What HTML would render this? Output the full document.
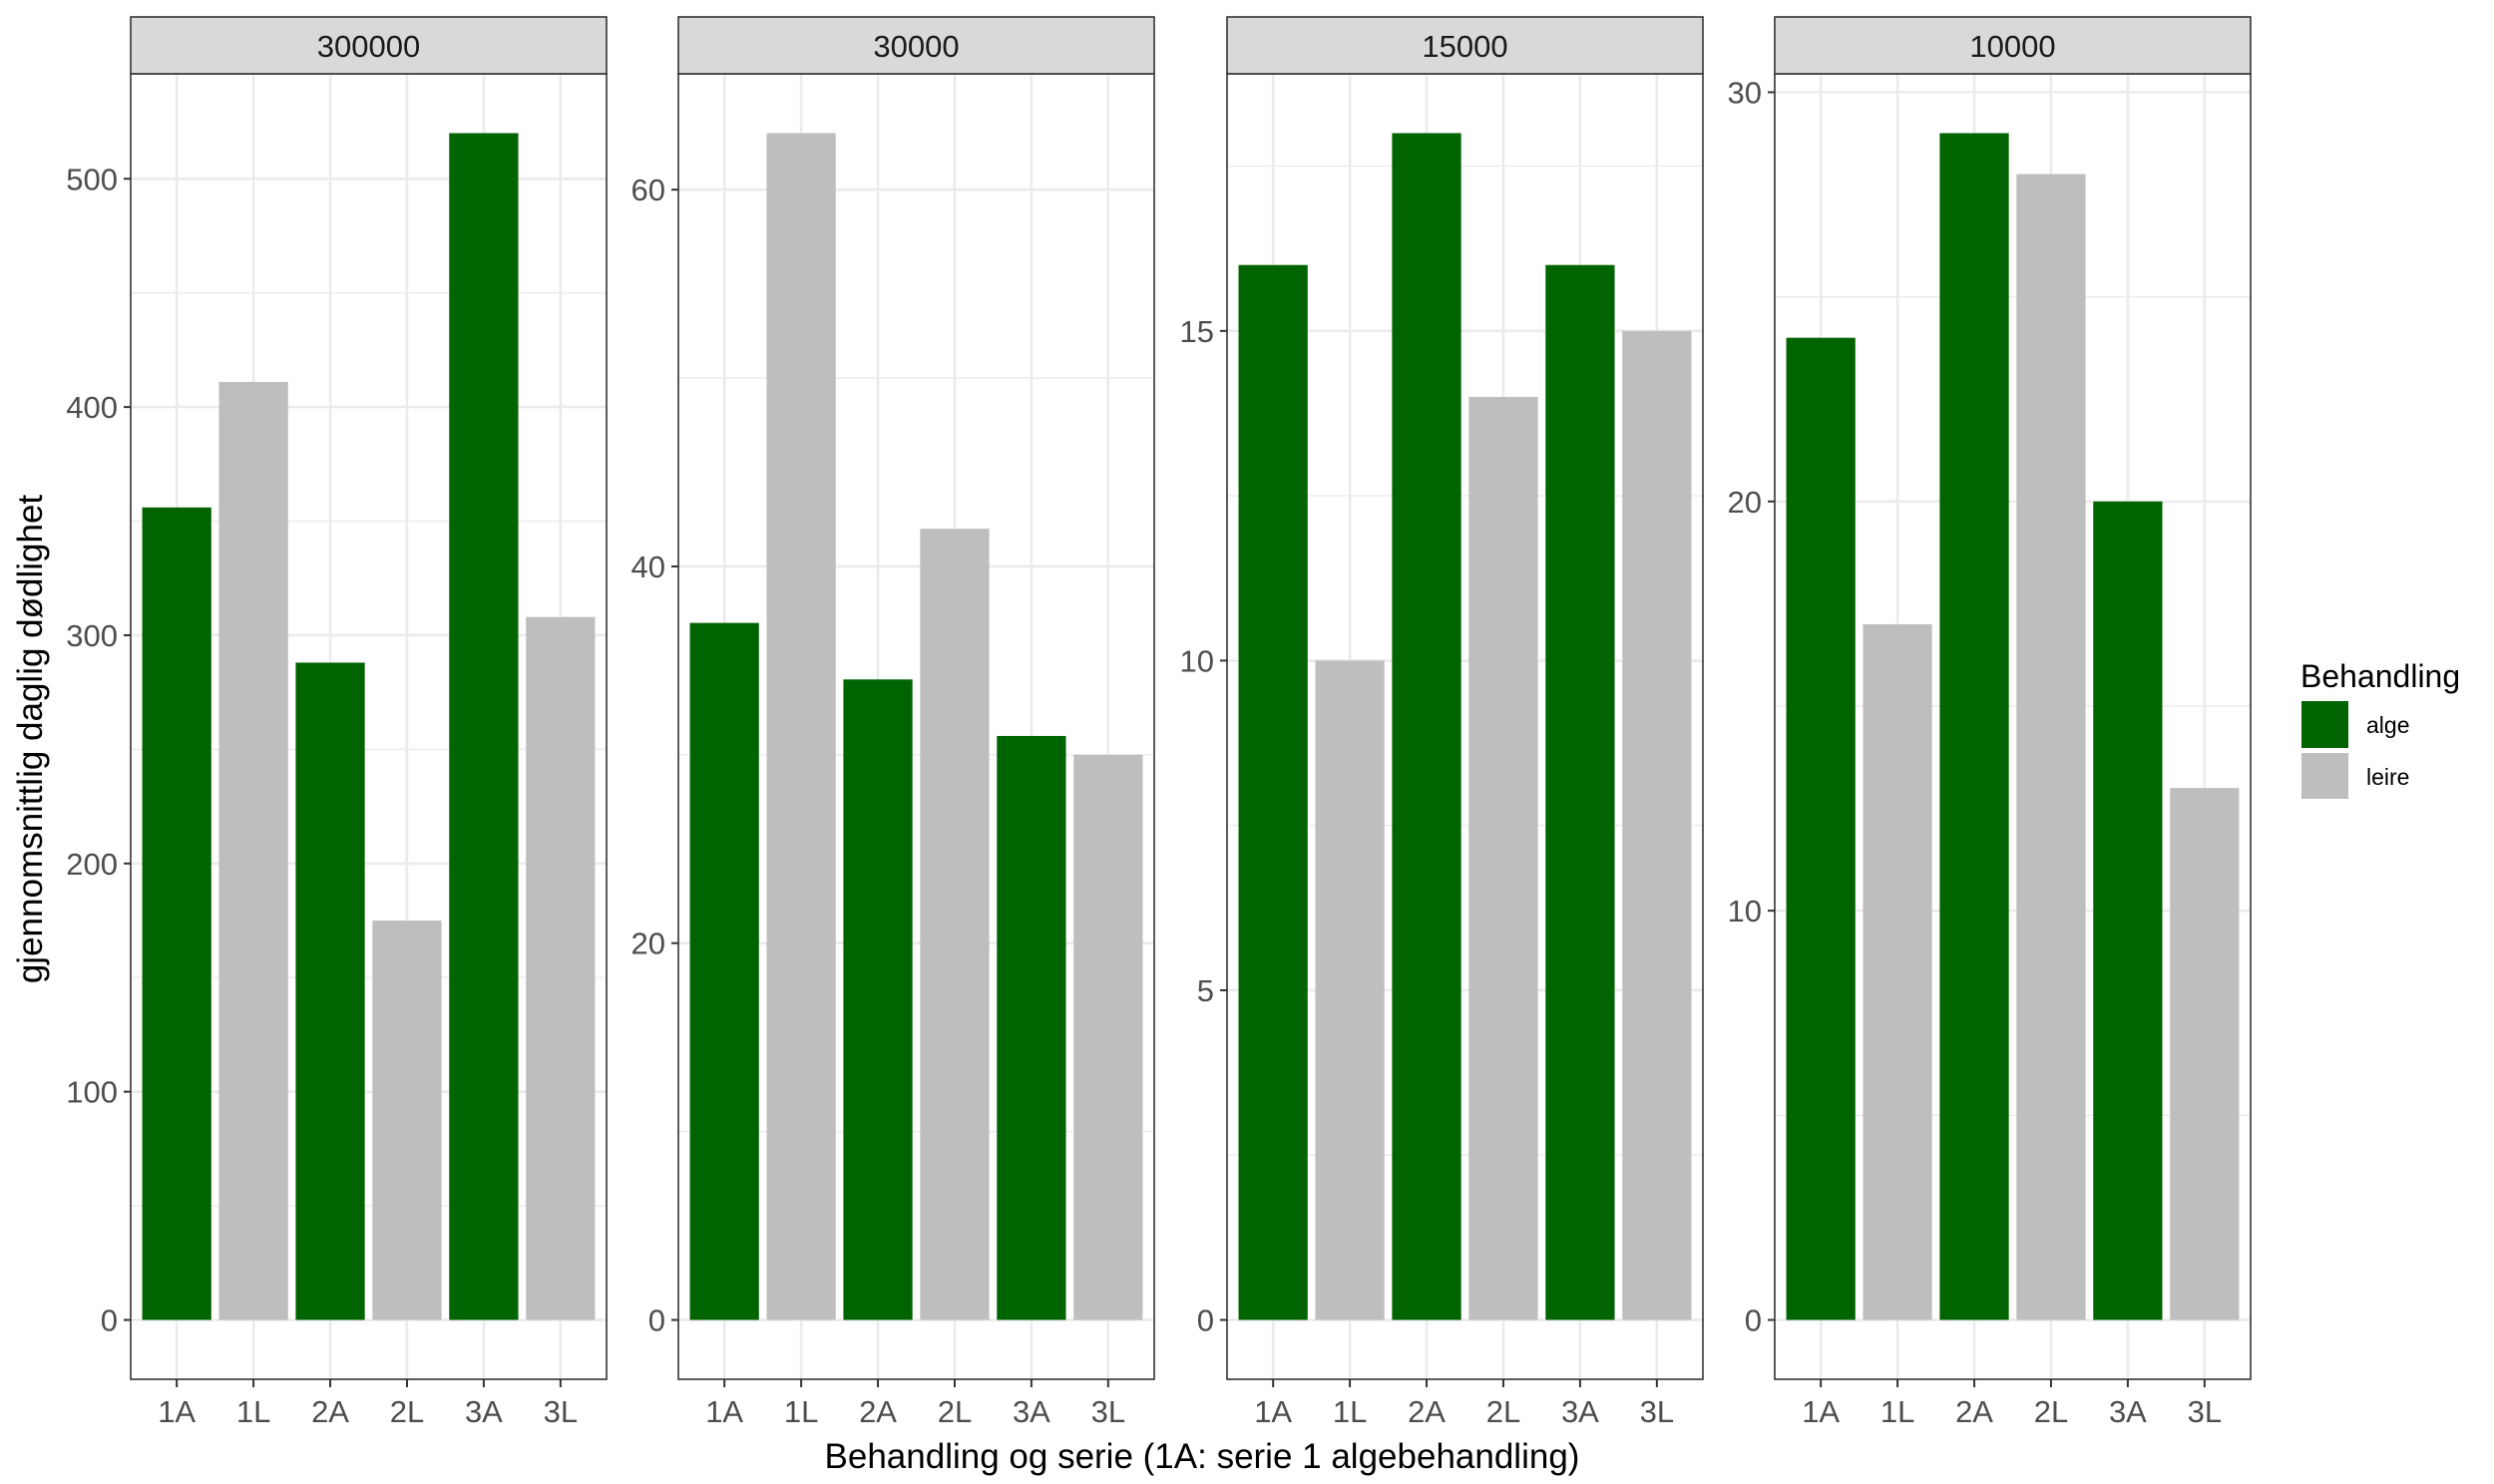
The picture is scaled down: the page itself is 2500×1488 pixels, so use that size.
<!DOCTYPE html>
<html><head><meta charset="utf-8"><style>
html,body{margin:0;padding:0;background:#fff;}
svg{display:block;font-family:"Liberation Sans",Arial,sans-serif;}
</style></head><body>
<svg id="chart" width="2500" height="1488" viewBox="0 0 2500 1488" xmlns="http://www.w3.org/2000/svg">
<rect width="2500" height="1488" fill="#fff"/>
<text x="0" y="0" transform="translate(42,741) rotate(-90)" text-anchor="middle" font-size="35" fill="#000">gjennomsnittlig daglig dødlighet</text>
<text x="1205" y="1472" text-anchor="middle" font-size="35" fill="#000">Behandling og serie (1A: serie 1 algebehandling)</text>
<g>
<text x="2306" y="689" font-size="32" fill="#000">Behandling</text>
<rect x="2307" y="703" width="47" height="47" fill="#006400"/>
<text x="2372" y="735" font-size="23" fill="#000">alge</text>
<rect x="2307" y="755" width="47" height="46" fill="#bebebe"/>
<text x="2372" y="787" font-size="23" fill="#000">leire</text>
</g>
</svg>
<script>
const categories = ["1A","1L","2A","2L","3A","3L"];
const treatment = ["alge","leire","alge","leire","alge","leire"];
const facetLabels = ["300000","30000","15000","10000"];
const values300000 = [356,411,288,175,520,308];
const values30000 = [37,63,34,42,31,30];
const values15000 = [16,10,18,14,16,15];
const values10000 = [24,17,29,28,20,13];
const ticks300000 = [0,100,200,300,400,500];
const ticks30000 = [0,20,40,60];
const ticks15000 = [0,5,10,15];
const ticks10000 = [0,10,20,30];

const series = [values300000, values30000, values15000, values10000];
const tickSets = [ticks300000, ticks30000, ticks15000, ticks10000];
const svg = document.getElementById('chart');
const NS = 'http://www.w3.org/2000/svg';
const colors = {alge:'#006400', leire:'#bebebe'};
const panelLefts = [131, 680, 1230, 1779];
const panelW = 477, stripTop = 17, panelTop = 74, panelBottom = 1383;

function mk(tag, attrs, parent){
  const e = document.createElementNS(NS, tag);
  for (const k in attrs) e.setAttribute(k, attrs[k]);
  parent.appendChild(e);
  return e;
}

series.forEach((vals, p) => {
  const L = panelLefts[p];
  const g = mk('g', {}, svg);
  
  
  const maxV = Math.max(...vals);
  const y0 = -0.05 * maxV, y1 = 1.05 * maxV;
  const yScale = v => panelBottom - (v - y0) / (y1 - y0) * (panelBottom - panelTop);
  const unit = panelW / (categories.length + 0.2);
  const xScale = i => L + (0.6 + i) * unit;
  const ticks = tickSets[p];
  const step = ticks[1] - ticks[0];
  for (let t = ticks[0] - step / 2; t <= y1; t += step) {
    if (t < y0) continue;
    const ln = mk('line', {x1:L, x2:L+panelW, y1:yScale(t), y2:yScale(t), stroke:'#ebebeb', 'stroke-width':1.4}, g);
    
    
  }
  ticks.forEach(t => {
    const ln = mk('line', {x1:L, x2:L+panelW, y1:yScale(t), y2:yScale(t), stroke:'#ebebeb', 'stroke-width':2.6}, g);
    
    
    const tk = mk('line', {x1:L-7, x2:L, y1:yScale(t), y2:yScale(t), stroke:'#333', 'stroke-width':2}, g);
    
    
    const tx = mk('text', {x:L-13, y:yScale(t)+11, 'text-anchor':'end', 'font-size':31, fill:'#4d4d4d'}, g);
    tx.textContent = t;
    
    
  });
  categories.forEach((c, i) => {
    const x = xScale(i);
    const ln = mk('line', {x1:x, x2:x, y1:panelTop, y2:panelBottom, stroke:'#ebebeb', 'stroke-width':2.6}, g);
    
    
  });
  categories.forEach((c, i) => {
    const x = xScale(i), bw = 0.9 * unit;
    const yv = yScale(vals[i]), yz = yScale(0);
    const r = mk('rect', {x:x-bw/2, y:yv, width:bw, height:yz-yv, fill:colors[treatment[i]]}, g);
    
    
    const tk = mk('line', {x1:x, x2:x, y1:panelBottom, y2:panelBottom+8, stroke:'#333', 'stroke-width':2}, g);
    
    
    const tx = mk('text', {x:x, y:panelBottom+43, 'text-anchor':'middle', 'font-size':31, fill:'#4d4d4d'}, g);
    tx.textContent = c;
    
    
  });
  const border = mk('rect', {x:L, y:panelTop, width:panelW, height:panelBottom-panelTop, fill:'none', stroke:'#333', 'stroke-width':1.6}, g);
  
  
  const strip = mk('rect', {x:L, y:stripTop, width:panelW, height:panelTop-stripTop, fill:'#d9d9d9', stroke:'#333', 'stroke-width':1.6}, g);
  
  
  const st = mk('text', {x:L+panelW/2, y:stripTop+40, 'text-anchor':'middle', 'font-size':31, fill:'#1a1a1a'}, g);
  st.textContent = facetLabels[p];
  
  
});
</script>
</body></html>
